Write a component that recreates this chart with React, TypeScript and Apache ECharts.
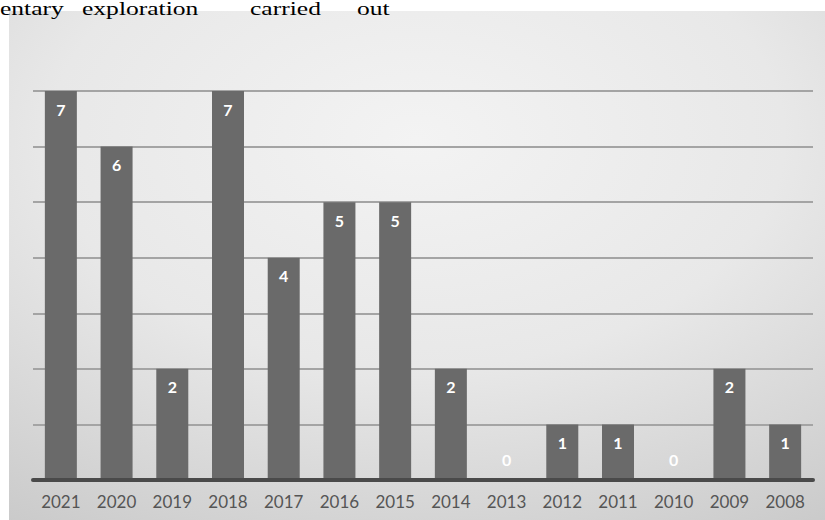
import React, { useEffect, useRef } from "react";
import * as echarts from "echarts";

const years = ["2021", "2020", "2019", "2018", "2017", "2016", "2015", "2014", "2013", "2012", "2011", "2010", "2009", "2008"];
const counts = [7, 6, 2, 7, 4, 5, 5, 2, 0, 1, 1, 0, 2, 1];
const captionWords = ["entary", "exploration", "carried", "out"];
const captionX = [0, 82, 250, 357];

export default function App() {
  const ref = useRef<HTMLDivElement>(null);
  useEffect(() => {
    if (!ref.current) return;
    const chart = echarts.init(ref.current, null, { renderer: "svg" });
    const data = counts.map((v) =>
      v === 0
        ? { value: v, label: { position: "insideBottom", distance: 13 } }
        : { value: v }
    );
    chart.setOption({
      animation: false,
      backgroundColor: "#ffffff",
      graphic: [
        {
          type: "rect",
          z: -10,
          silent: true,
          shape: { x: 9, y: 11, width: 816, height: 509 },
          style: {
            fill: {
              type: "radial",
              x: 0.5,
              y: 0.25,
              r: 1.0,
              colorStops: [
                { offset: 0, color: "#f3f3f3" },
                { offset: 0.45, color: "#e8e8e8" },
                { offset: 1, color: "#c4c4c4" },
              ],
            },
          },
        },
        ...captionWords.map((w, i) => ({
          type: "text",
          x: captionX[i],
          y: 0,
          scaleX: 1.42,
          z: 10,
          style: {
            text: w,
            font: "18px 'Liberation Serif', 'Times New Roman', serif",
            fill: "#000000",
            verticalAlign: "top",
          },
        })),
      ],
      grid: { left: 33, right: 12, top: 91, bottom: 40, containLabel: false },
      xAxis: {
        type: "category",
        data: years,
        axisLine: { show: true, lineStyle: { color: "#4a4a4a", width: 4 } },
        axisTick: { show: false },
        axisLabel: {
          color: "#555555",
          fontSize: 17,
          fontFamily: "Lato, 'Open Sans', sans-serif",
          margin: 13,
        },
        z: 5,
      },
      yAxis: {
        type: "value",
        min: 0,
        max: 7,
        interval: 1,
        axisLabel: { show: false },
        axisLine: { show: false },
        axisTick: { show: false },
        splitLine: { lineStyle: { color: "#a4a4a4", width: 2 } },
      },
      series: [
        {
          type: "bar",
          data,
          barWidth: 32,
          itemStyle: { color: "#6a6a6a" },
          label: {
            show: true,
            position: "insideTop",
            distance: 10,
            color: "#ffffff",
            fontWeight: "bold",
            fontSize: 16,
            fontFamily: "Lato, 'Open Sans', sans-serif",
          },
        },
      ],
    });
    return () => chart.dispose();
  }, []);
  return (
    <div
      ref={ref}
      style={{ position: "fixed", left: 0, top: 0, width: 825, height: 520 }}
    />
  );
}
